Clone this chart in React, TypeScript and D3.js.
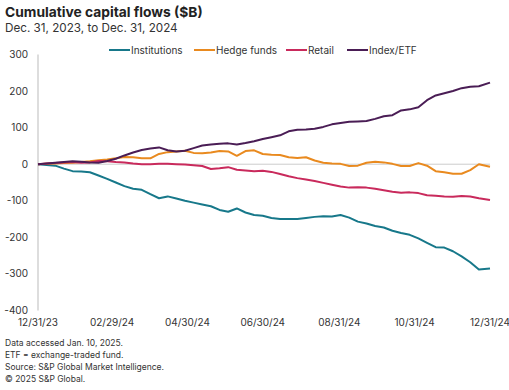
import React, { useEffect, useRef } from "react";
import * as d3 from "d3";

// weekly observations, Dec 31 2023 .. Dec 31 2024
const startDate = new Date(2023, 11, 31);
const endDate = new Date(2024, 11, 31);
const weekCount = 53;

const institutions = [
  0, -2, -4, -12, -19, -20, -22, -31, -40, -50, -60, -67, -70, -82, -93, -88, -94, -100,
  -105, -110, -115, -125, -130, -121, -132, -139, -141, -147, -150, -150, -150, -147, -144,
  -142, -143, -139, -146, -157, -162, -169, -173, -182, -188, -193, -203, -215, -227, -228,
  -238, -252, -268, -288, -285,
];
const hedgeFunds = [
  0, 1, 2, 3, 4, 6, 8, 11, 13, 16, 20, 19, 16, 16, 28, 33, 35, 37, 31, 30, 32, 36, 35, 23,
  36, 38, 28, 26, 25, 19, 17, 19, 10, 4, 2, 1, -5, -4, 4, 7, 5, 1, -5, -5, 3, -4, -19, -22,
  -26, -26, -16, 0, -7,
];
const retail = [
  0, 2, 3, 5, 6, 4, 5, 9, 8, 6, 5, 2, 0, 0, 1, 1, 0, -1, -3, -5, -13, -11, -8, -15, -17,
  -19, -18, -21, -27, -33, -38, -42, -46, -51, -56, -61, -64, -63, -64, -67, -71, -75, -78,
  -77, -79, -85, -86, -88, -89, -87, -88, -93, -98,
];
const indexEtf = [
  0, 2, 4, 6, 8, 7, 5, 4, 9, 15, 24, 32, 39, 43, 46, 38, 35, 37, 44, 51, 54, 56, 57, 54, 58,
  63, 69, 74, 79, 90, 94, 95, 97, 102, 109, 113, 116, 117, 118, 124, 131, 134, 147, 150,
  156, 175, 188, 194, 200, 208, 212, 213, 223,
];

const seriesNames = ["Institutions", "Hedge funds", "Retail", "Index/ETF"];
const seriesColors = ["#17788a", "#e98a1f", "#c92a5c", "#4a1d55"];
const yTicks = [300, 200, 100, 0, -100, -200, -300, -400];
const xTickDates = [
  new Date(2023, 11, 31),
  new Date(2024, 1, 29),
  new Date(2024, 3, 30),
  new Date(2024, 5, 30),
  new Date(2024, 7, 31),
  new Date(2024, 9, 31),
  new Date(2024, 11, 31),
];
const notes = [
  "Data accessed Jan. 10, 2025.",
  "ETF = exchange-traded fund.",
  "Source: S&P Global Market Intelligence.",
  "\u00a9 2025 S&P Global.",
];

const FONT = "Inter, 'Noto Sans', sans-serif";

export default function App() {
  const ref = useRef<SVGSVGElement>(null);

  useEffect(() => {
    const svg = d3.select(ref.current);
    svg.selectAll("*").remove();

    const dates = d3.range(weekCount).map((i) =>
      i === weekCount - 1 ? endDate : d3.timeDay.offset(startDate, i * 7)
    );
    const allSeries = [institutions, hedgeFunds, retail, indexEtf];

    const x = d3.scaleTime().domain([startDate, endDate]).range([38, 490]);
    const y = d3.scaleLinear().domain([-400, 300]).range([310.5, 54.5]);

    // title
    svg.append("text").attr("x", 5).attr("y", 17)
      .style("font-family", FONT).style("font-size", "13.8px").style("font-weight", "700")
      .attr("fill", "#222").text("Cumulative capital flows ($B)");
    svg.append("text").attr("x", 5).attr("y", 32)
      .style("font-family", FONT).style("font-size", "11.7px")
      .attr("fill", "#333").text("Dec. 31, 2023, to Dec. 31, 2024");

    // legend
    const legendX = [109, 194, 286, 347];
    seriesNames.forEach((name, i) => {
      const g = svg.append("g").attr("transform", `translate(${legendX[i]}, 50)`);
      g.append("line").attr("x1", 0).attr("x2", 21).attr("y1", 0).attr("y2", 0)
        .attr("stroke", seriesColors[i]).attr("stroke-width", 2);
      g.append("text").attr("x", 22).attr("y", 3.5)
        .style("font-family", FONT).style("font-size", "10px")
        .attr("fill", "#333").text(name);
    });

    // y axis
    svg.append("line").attr("x1", 38).attr("x2", 38).attr("y1", y(300)).attr("y2", y(-400))
      .attr("stroke", "#bbb").attr("stroke-width", 1);
    svg.selectAll(".ytick").data(yTicks).join("text").attr("class", "ytick")
      .attr("x", 28).attr("y", (d) => y(d) + 3.5)
      .attr("text-anchor", "end")
      .style("font-family", FONT).style("font-size", "10px")
      .attr("fill", "#333").text((d) => d);

    // zero line
    svg.append("line").attr("x1", 38).attr("x2", 490).attr("y1", y(0)).attr("y2", y(0))
      .attr("stroke", "#ccc").attr("stroke-width", 1);

    // x labels
    const fmt = d3.timeFormat("%m/%d/%y");
    svg.selectAll(".xtick").data(xTickDates).join("text").attr("class", "xtick")
      .attr("x", (d) => x(d)).attr("y", 326)
      .attr("text-anchor", "middle")
      .style("font-family", FONT).style("font-size", "10px")
      .attr("fill", "#333").text((d) => fmt(d));

    // lines
    const line = d3.line<number>()
      .x((_, i) => x(dates[i]))
      .y((d) => y(d));
    allSeries.forEach((s, i) => {
      svg.append("path").datum(s).attr("d", line)
        .attr("fill", "none").attr("stroke", seriesColors[i])
        .attr("stroke-width", 2).attr("stroke-linejoin", "round");
    });

    // notes
    svg.selectAll(".note").data(notes).join("text").attr("class", "note")
      .attr("x", 5).attr("y", (_, i) => 346 + i * 12)
      .style("font-family", FONT).style("font-size", "8.5px")
      .attr("fill", "#333").text((d) => d);
  }, []);

  return (
    <svg ref={ref} width={509} height={390}
      style={{ position: "absolute", left: 0, top: 0, background: "#fff" }} />
  );
}
